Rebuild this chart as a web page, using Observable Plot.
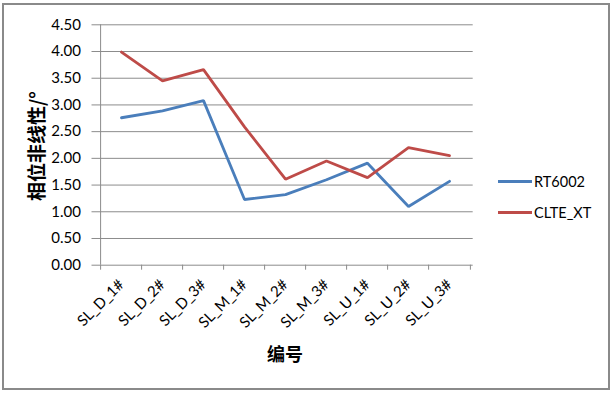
<!DOCTYPE html>
<html>
<head>
<meta charset="utf-8">
<script src="https://cdn.jsdelivr.net/npm/d3@7"></script>
<script src="https://cdn.jsdelivr.net/npm/@observablehq/plot@0.6"></script>
<style>
  html, body { margin: 0; padding: 0; background: #fff; }
  #wrap { position: relative; width: 614px; height: 394px; overflow: hidden; background: #fff; }
  #frame { position: absolute; left: 2px; top: 3px; width: 604px; height: 383px; border: 2px solid #8a8a8a; box-sizing: content-box; }
  #chart { position: absolute; left: 0; top: 0; }
  #legend { position: absolute; left: 498px; top: 170px; font-family: Lato, "Liberation Sans", sans-serif; font-size: 14.5px; color: #000; }
  .item { display: flex; align-items: center; height: 22px; margin-bottom: 9.5px; }
  .swatch { width: 34px; height: 3px; margin-right: 2px; }
</style>
</head>
<body>
<div id="wrap">
  <div id="frame"></div>
  <div id="chart"></div>
  <div id="legend"></div>
</div>
<script>
const categories = ["SL_D_1#", "SL_D_2#", "SL_D_3#", "SL_M_1#", "SL_M_2#", "SL_M_3#", "SL_U_1#", "SL_U_2#", "SL_U_3#"];
const seriesNames = ["RT6002", "CLTE_XT"];
const rt6002 = [2.76, 2.89, 3.08, 1.23, 1.32, 1.60, 1.91, 1.10, 1.57];
const clteXt = [3.99, 3.45, 3.66, 2.59, 1.61, 1.95, 1.64, 2.20, 2.05];
const yTicks = [0, 0.5, 1, 1.5, 2, 2.5, 3, 3.5, 4, 4.5];
const seriesColors = ["#4A7EBB", "#BE4B48"];
const yTitle = "相位非线性/°";
const xTitle = "编号";

const data = [];
[rt6002, clteXt].forEach((vals, s) => {
  vals.forEach((v, i) => data.push({series: seriesNames[s], cat: categories[i], value: v}));
});

const W = 614, H = 394;
const mL = 96.5, mR = 141.3, mT = 24.3, mB = 129.3;
const step = (W - mL - mR) / categories.length;

const plot = Plot.plot({
  width: W,
  height: H,
  marginLeft: mL,
  marginRight: mR,
  marginTop: mT,
  marginBottom: mB,
  style: {fontFamily: "Lato, 'Liberation Sans', sans-serif", fontSize: "14px", color: "#000", background: "transparent"},
  x: {type: "point", domain: categories, padding: 0.5, label: null},
  y: {domain: [0, 4.5], label: null},
  color: {domain: seriesNames, range: seriesColors},
  marks: [
    Plot.ruleY(yTicks, {stroke: "#8c8c8c", strokeWidth: 1, insetLeft: -5}),
    Plot.ruleX([categories[0]], {stroke: "#8c8c8c", strokeWidth: 1, dx: -step / 2}),
    Plot.ruleX(categories, {x: d => d, y1: 0, y2: 0, insetBottom: -5, stroke: "#8c8c8c", dx: -step / 2}),
    Plot.ruleX([categories[categories.length - 1]], {x: d => d, y1: 0, y2: 0, insetBottom: -5, stroke: "#8c8c8c", dx: step / 2}),
    Plot.axisY({ticks: yTicks, tickFormat: d3.format(".2f"), tickSize: 0, tickPadding: 16, fontSize: 15, label: null}),
    Plot.axisX({tickSize: 0, tickRotate: -45, tickPadding: 17, fontSize: 15, label: null}),
    Plot.line(data, {x: "cat", y: "value", z: "series", stroke: "series", strokeWidth: 2.8, strokeLinejoin: "miter"}),
    Plot.text([yTitle], {frameAnchor: "left", dx: -59.5, dy: 1, rotate: -90, textAnchor: "middle", lineAnchor: "middle", fontSize: 19, fontWeight: "bold", fontFamily: "'Noto Sans CJK SC', sans-serif", fill: "#000"}),
    Plot.text([xTitle], {frameAnchor: "bottom", dy: 90, textAnchor: "middle", lineAnchor: "middle", fontSize: 18, fontWeight: "bold", fontFamily: "'Noto Sans CJK SC', sans-serif", fill: "#000"})
  ]
});
document.getElementById("chart").appendChild(plot);

const legend = document.getElementById("legend");
seriesNames.forEach((name, i) => {
  const item = document.createElement("div");
  item.className = "item";
  const sw = document.createElement("div");
  sw.className = "swatch";
  sw.style.background = seriesColors[i];
  const t = document.createElement("span");
  t.textContent = name;
  item.appendChild(sw);
  item.appendChild(t);
  legend.appendChild(item);
});
</script>
</body>
</html>
